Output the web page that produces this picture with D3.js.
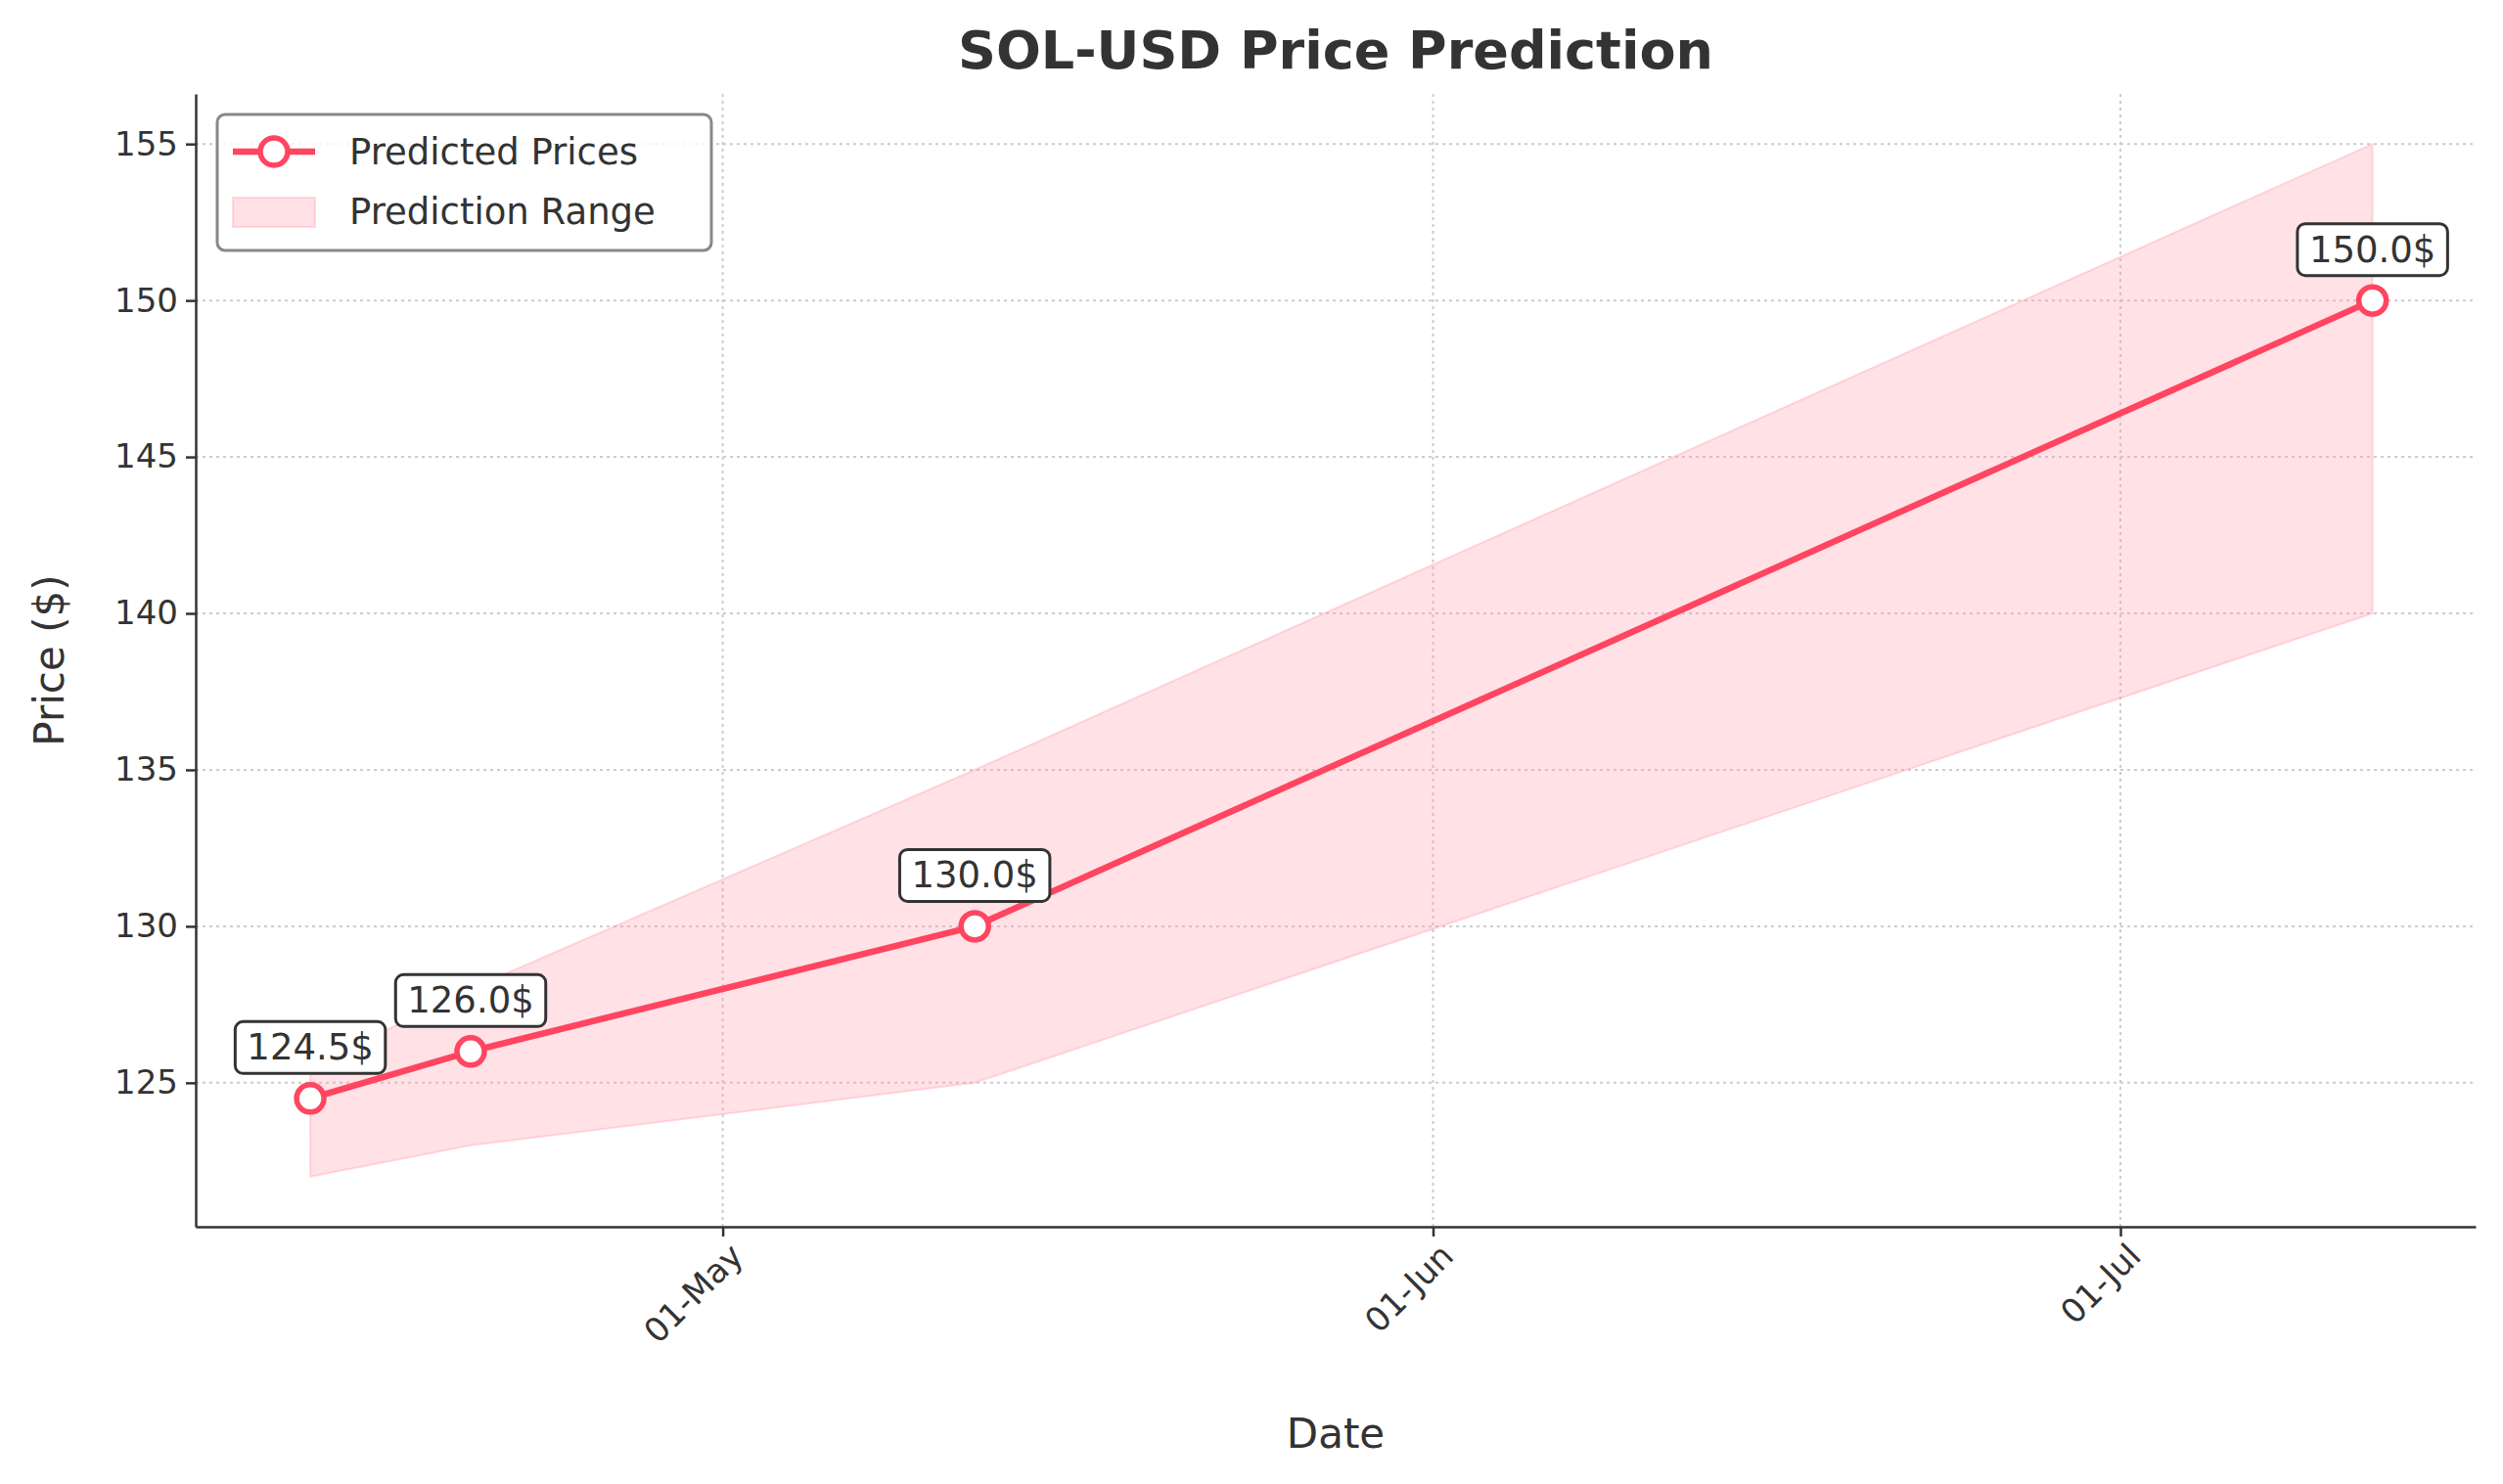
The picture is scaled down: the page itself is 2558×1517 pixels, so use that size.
<!DOCTYPE html>
<html><head><meta charset="utf-8">
<script src="https://cdn.jsdelivr.net/npm/d3@7"></script>
<style>body{margin:0;background:#fff}text{font-family:"DejaVu Sans",sans-serif;fill:#333}</style>
</head><body><svg id="c" width="2558" height="1517"></svg>
<script>
const dates=["2024-04-13","2024-04-20","2024-05-12","2024-07-12"];
const predicted=[124.5,126.0,130.0,150.0];
const lower=[122,123,125,140];
const upper=[125.5,128,135,155];
const yTicks=[125,130,135,140,145,150,155];
const xTicks=["2024-05-01","2024-06-01","2024-07-01"];
const p=d3.timeParse("%Y-%m-%d");
const data=dates.map((d,i)=>({d:p(d),v:predicted[i],lo:lower[i],hi:upper[i]}));
const svg=d3.select("#c");
const L=200,R=2530,T=96,B=1254;
const x=d3.scaleTime().domain([p("2024-04-08"),new Date(2024,6,16,12)]).range([L,R]);
const y=d3.scaleLinear().domain([120.4,156.6]).range([B,T]);
const g=svg.append("g");
yTicks.forEach(t=>g.append("line").attr("x1",L).attr("x2",R).attr("y1",y(t)).attr("y2",y(t)).attr("stroke","#ccc").attr("stroke-width",2).attr("stroke-dasharray","3,4"));
xTicks.forEach(t=>g.append("line").attr("x1",x(p(t))).attr("x2",x(p(t))).attr("y1",T).attr("y2",B).attr("stroke","#ccc").attr("stroke-width",2).attr("stroke-dasharray","3,4"));
g.append("path").datum(data).attr("d",d3.area().x(d=>x(d.d)).y0(d=>y(d.lo)).y1(d=>y(d.hi))).attr("fill","#ff9aad").attr("fill-opacity",0.3).attr("stroke","#ff9aad").attr("stroke-opacity",0.35).attr("stroke-width",2);
g.append("path").datum(data).attr("d",d3.line().x(d=>x(d.d)).y(d=>y(d.v))).attr("fill","none").attr("stroke","#ff4560").attr("stroke-width",6.5);
g.selectAll("circle.p").data(data).join("circle").attr("cx",d=>x(d.d)).attr("cy",d=>y(d.v)).attr("r",14).attr("fill","#fff").attr("stroke","#ff4560").attr("stroke-width",5.5);
data.forEach(d=>{
  const cx=x(d.d),cy=y(d.v)-50;
  const t=g.append("text").attr("x",cx).attr("y",cy).attr("text-anchor","middle").attr("dominant-baseline","middle").attr("font-size",37).text(d.v.toFixed(1)+"$");
  const bb=t.node().getBBox();
  g.insert("rect","text:last-child").attr("x",bb.x-12).attr("y",bb.y-5).attr("width",bb.width+24).attr("height",bb.height+10).attr("rx",8).attr("fill","#fff").attr("stroke","#333").attr("stroke-width",3);
  t.raise();
});
const ya=svg.append("g").attr("transform",`translate(${L},0)`).call(d3.axisLeft(y).tickValues(yTicks).tickSize(10).tickSizeOuter(0).tickPadding(8));
const xa=svg.append("g").attr("transform",`translate(0,${B})`).call(d3.axisBottom(x).tickValues(xTicks.map(p)).tickFormat(d3.timeFormat("%d-%b")).tickSize(10).tickSizeOuter(0).tickPadding(8));
[ya,xa].forEach(a=>{a.selectAll("text").attr("font-size",34).style("fill","#333");a.selectAll("line,path").attr("stroke","#333").attr("stroke-width",2.5);});
xa.selectAll("text").attr("text-anchor","end").attr("transform","rotate(-45)").attr("dx","-0.2em").attr("dy","0.6em");
svg.append("text").attr("x",(L+R)/2).attr("y",70).attr("text-anchor","middle").attr("font-size",54).attr("font-weight","bold").text("SOL-USD Price Prediction");
svg.append("text").attr("x",(L+R)/2).attr("y",1480).attr("text-anchor","middle").attr("font-size",42).text("Date");
svg.append("text").attr("transform",`translate(65,${(T+B)/2}) rotate(-90)`).attr("text-anchor","middle").attr("font-size",42).text("Price ($)");
const lg=svg.append("g");
lg.append("rect").attr("x",222).attr("y",117).attr("width",505).attr("height",139).attr("rx",8).attr("fill","#fff").attr("fill-opacity",0.8).attr("stroke","#888").attr("stroke-width",3);
lg.append("line").attr("x1",238).attr("x2",322).attr("y1",155).attr("y2",155).attr("stroke","#ff4560").attr("stroke-width",6.5);
lg.append("circle").attr("cx",280).attr("cy",155).attr("r",14).attr("fill","#fff").attr("stroke","#ff4560").attr("stroke-width",5.5);
lg.append("rect").attr("x",238).attr("y",202).attr("width",84).attr("height",30).attr("fill","#ff9aad").attr("fill-opacity",0.3).attr("stroke","#ff9aad").attr("stroke-opacity",0.35).attr("stroke-width",2);
lg.append("text").attr("x",357).attr("y",168).attr("font-size",37).text("Predicted Prices");
lg.append("text").attr("x",357).attr("y",229).attr("font-size",37).text("Prediction Range");
</script></body></html>
